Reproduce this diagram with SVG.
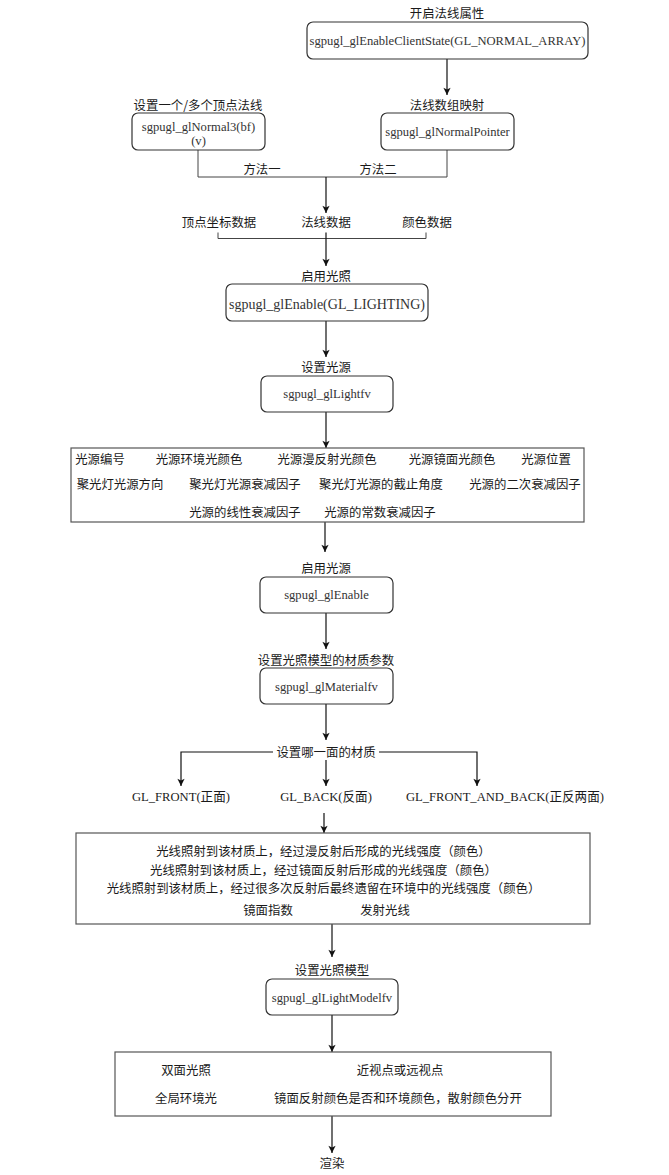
<svg xmlns="http://www.w3.org/2000/svg" width="669" height="1175" viewBox="0 0 669 1175">
<style>
text{font-family:"Liberation Serif","Noto Sans CJK SC",serif;font-size:12.6px;fill:#1a1a1a;text-anchor:middle;dominant-baseline:central}
.cjk{font-family:"Noto Sans CJK SC","Liberation Sans",sans-serif;font-size:12.4px}
.box{fill:#fff;stroke:#333;stroke-width:1.2}
.rect{fill:#fff;stroke:#555;stroke-width:1.2}
.bt{fill:#333}
.c{fill:none;stroke:#111;stroke-width:1.2}
.l{fill:none;stroke:#444;stroke-width:1}
</style>
<defs>
<marker id="arr" viewBox="0 0 10 10" refX="9" refY="5" markerWidth="9" markerHeight="9" orient="auto" markerUnits="userSpaceOnUse">
<path d="M1,1 L9,5 L1,9 L3,5 Z" fill="#111"/>
</marker>
</defs>
<rect width="669" height="1175" fill="#fff"/>
<g id="connectors">
<path class="c" d="M447,59 V95" marker-end="url(#arr)"/>
<path class="l" d="M198,150 V177 H447 V150"/>
<path class="c" d="M326,177 V213" marker-end="url(#arr)"/>
<path class="l" d="M218,232.5 V238.5 H426 V232.5"/>
<path class="c" d="M326,232.5 V266" marker-end="url(#arr)"/>
<path class="c" d="M326,321 V357" marker-end="url(#arr)"/>
<path class="c" d="M326,412 V448" marker-end="url(#arr)"/>
<path class="c" d="M325,522 V552" marker-end="url(#arr)"/>
<path class="c" d="M326,613 V649" marker-end="url(#arr)"/>
<path class="c" d="M326,704 V740" marker-end="url(#arr)"/>
<path class="c" d="M273,752 H181 V786" marker-end="url(#arr)"/>
<path class="c" d="M379,752 H477 V786" marker-end="url(#arr)"/>
<path class="c" d="M326,760 V786" marker-end="url(#arr)"/>
<path class="c" d="M324,813 V833" marker-end="url(#arr)"/>
<path class="c" d="M332,924 V957" marker-end="url(#arr)"/>
<path class="c" d="M332,1015 V1052" marker-end="url(#arr)"/>
<path class="c" d="M332,1116 V1153" marker-end="url(#arr)"/>
</g>
<g id="labels-top">
<text class="cjk" x="447" y="13">开启法线属性</text>
<text class="cjk" x="447" y="105">法线数组映射</text>
<text class="cjk" x="198" y="105">设置一个/多个顶点法线</text>
<text class="cjk" x="262" y="169">方法一</text>
<text class="cjk" x="378" y="169">方法二</text>
<text class="cjk" x="219" y="222">顶点坐标数据</text>
<text class="cjk" x="326" y="222">法线数据</text>
<text class="cjk" x="427" y="222">颜色数据</text>
</g>
<g id="n-clientstate">
<rect class="box" x="307" y="22" width="281" height="37" rx="6"/>
<text class="bt" x="447.5" y="41">sgpugl_glEnableClientState(GL_NORMAL_ARRAY)</text>
</g>
<g id="n-normal3">
<rect class="box" x="132" y="113" width="133" height="37" rx="6"/>
<text class="bt" x="198.5" y="127">sgpugl_glNormal3(bf)</text>
<text class="bt" x="198.5" y="141">(v)</text>
</g>
<g id="n-normalpointer">
<rect class="box" x="381" y="113" width="133" height="37" rx="6"/>
<text class="bt" x="447.5" y="132">sgpugl_glNormalPointer</text>
</g>
<g id="n-lighting">
<text class="cjk" x="326" y="276">启用光照</text>
<rect class="box" x="226" y="284" width="202" height="37" rx="6"/>
<text class="bt" x="327" y="304" style="font-size:14px">sgpugl_glEnable(GL_LIGHTING)</text>
</g>
<g id="n-lightfv">
<text class="cjk" x="326" y="367">设置光源</text>
<rect class="box" x="261" y="376" width="132" height="36" rx="6"/>
<text class="bt" x="327" y="394">sgpugl_glLightfv</text>
</g>
<g id="n-lightparams">
<rect class="rect" x="71" y="448" width="513" height="74"/>
<text class="cjk" x="100" y="459">光源编号</text>
<text class="cjk" x="199" y="459">光源环境光颜色</text>
<text class="cjk" x="327" y="459">光源漫反射光颜色</text>
<text class="cjk" x="452" y="459">光源镜面光颜色</text>
<text class="cjk" x="546" y="459">光源位置</text>
<text class="cjk" x="120" y="484">聚光灯光源方向</text>
<text class="cjk" x="245" y="484">聚光灯光源衰减因子</text>
<text class="cjk" x="381" y="484">聚光灯光源的截止角度</text>
<text class="cjk" x="525" y="484">光源的二次衰减因子</text>
<text class="cjk" x="245" y="512">光源的线性衰减因子</text>
<text class="cjk" x="380" y="512">光源的常数衰减因子</text>
</g>
<g id="n-enable">
<text class="cjk" x="326" y="568">启用光源</text>
<rect class="box" x="260" y="577" width="133" height="36" rx="6"/>
<text class="bt" x="326.5" y="595">sgpugl_glEnable</text>
</g>
<g id="n-material">
<text class="cjk" x="326" y="660">设置光照模型的材质参数</text>
<rect class="box" x="260" y="668" width="133" height="36" rx="6"/>
<text class="bt" x="326.5" y="687">sgpugl_glMaterialfv</text>
</g>
<g id="n-face">
<text class="cjk" x="326" y="752">设置哪一面的材质</text>
<text x="181" y="797">GL_FRONT(正面)</text>
<text x="326" y="797">GL_BACK(反面)</text>
<text x="505" y="797">GL_FRONT_AND_BACK(正反两面)</text>
</g>
<g id="n-matparams">
<rect class="rect" x="76" y="833" width="514" height="91"/>
<text class="cjk" x="323.5" y="851">光线照射到该材质上，经过漫反射后形成的光线强度（颜色）</text>
<text class="cjk" x="323.5" y="870">光线照射到该材质上，经过镜面反射后形成的光线强度（颜色）</text>
<text class="cjk" x="323.5" y="888">光线照射到该材质上，经过很多次反射后最终遗留在环境中的光线强度（颜色）</text>
<text class="cjk" x="268" y="910">镜面指数</text>
<text class="cjk" x="385" y="910">发射光线</text>
</g>
<g id="n-lightmodel">
<text class="cjk" x="332" y="970">设置光照模型</text>
<rect class="box" x="266" y="979" width="132" height="36" rx="6"/>
<text class="bt" x="332" y="998">sgpugl_glLightModelfv</text>
</g>
<g id="n-modelparams">
<rect class="rect" x="115" y="1052" width="436" height="64"/>
<text class="cjk" x="186" y="1070">双面光照</text>
<text class="cjk" x="400" y="1070">近视点或远视点</text>
<text class="cjk" x="186" y="1098">全局环境光</text>
<text class="cjk" x="398" y="1098">镜面反射颜色是否和环境颜色，散射颜色分开</text>
</g>
<g id="n-render">
<text class="cjk" x="332" y="1163">渲染</text>
</g>
</svg>
